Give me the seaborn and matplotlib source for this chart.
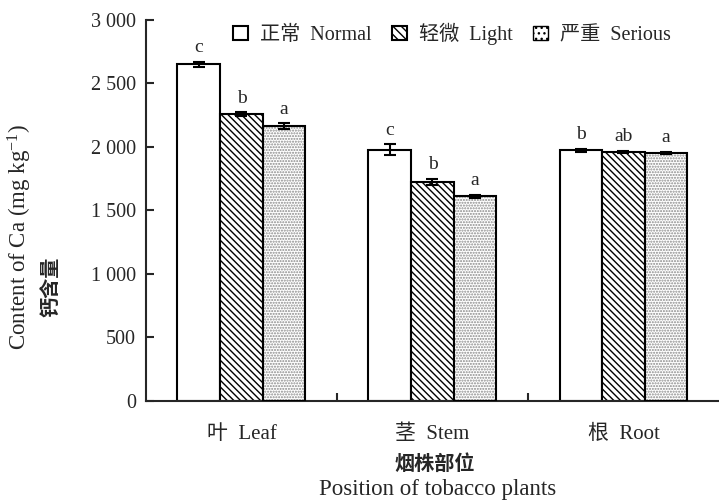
import numpy as np
import pandas as pd
import matplotlib
matplotlib.use("Agg")
import matplotlib.pyplot as plt
import matplotlib.ticker as mticker
from matplotlib.patches import Patch, Rectangle
import seaborn as sns

# dados
partes = ["叶  Leaf", "茎  Stem", "根  Root"]
niveis = ["正常  Normal", "轻微  Light", "严重  Serious"]
normal = [2650, 1980, 1975]
leve = [2258, 1725, 1962]
grave = [2165, 1612, 1952]
err_normal = [22, 40, 12]
err_leve = [14, 25, 8]
err_grave = [22, 12, 10]
letras_normal = ["c", "c", "b"]
letras_leve = ["b", "b", "ab"]
letras_grave = ["a", "a", "a"]

sns.set_theme(style="ticks")
plt.rcParams.update({
    "font.family": ["Liberation Serif", "Noto Sans CJK SC"],
    "mathtext.fontset": "custom",
    "mathtext.rm": "Liberation Serif",
    "mathtext.it": "Liberation Serif:italic",
    "hatch.linewidth": 1.0,
    "axes.linewidth": 1.5,
})

df = pd.DataFrame({
    "parte": partes * 3,
    "nivel": [niveis[0]] * 3 + [niveis[1]] * 3 + [niveis[2]] * 3,
    "valor": normal + leve + grave,
    "erro": err_normal + err_leve + err_grave,
    "letra": letras_normal + letras_leve + letras_grave,
})

fig = plt.figure(figsize=(7.19, 5.01), dpi=100)
ax = fig.add_axes([0.203, 0.1996, 0.797, 0.7605])

sns.barplot(data=df, x="parte", y="valor", hue="nivel", order=partes,
            hue_order=niveis, errorbar=None, width=0.67, ax=ax,
            palette=["white", "white", "white"], edgecolor="black",
            linewidth=1.5, legend=False)

barras = list(ax.containers)
for bar in barras[1]:
    bar.set_hatch("\\\\\\\\\\")
# hachura pontilhada cinza + contorno preto por cima
for bar in barras[2]:
    bar.set_hatch("......")
    bar.set_edgecolor("#8a8a8a")
    bar.set_linewidth(0)
    ax.add_patch(Rectangle(bar.get_xy(), bar.get_width(), bar.get_height(),
                           fill=False, edgecolor="black", linewidth=1.5, zorder=3))

for i, cont in enumerate(barras):
    sub = df[df["nivel"] == niveis[i]].set_index("parte").loc[partes]
    for bar, (_, row) in zip(cont, sub.iterrows()):
        xc = bar.get_x() + bar.get_width() / 2
        ax.errorbar(xc, row["valor"], yerr=row["erro"], color="black",
                    capsize=4, elinewidth=1.5, capthick=1.5, zorder=4)
        ax.text(xc, row["valor"] + row["erro"] + 45, row["letra"],
                ha="center", va="bottom", fontsize=14)

ax.set_ylim(0, 3000)
ax.set_xlim(-0.5, 2.5)
ax.set_yticks(range(0, 3001, 500))
ax.yaxis.set_major_formatter(mticker.FuncFormatter(
    lambda v, _: f"{int(v):,}".replace(",", " ")))
ax.set_xticks([0, 1, 2])
ax.set_xticklabels(partes)
ax.xaxis.set_minor_locator(mticker.FixedLocator([0.5, 1.5]))
ax.tick_params(axis="x", which="major", length=0, pad=17, labelsize=15)
ax.tick_params(axis="x", which="minor", direction="in", length=6, width=1.5)
ax.tick_params(axis="y", direction="in", length=6, width=1.5, labelsize=14.5, pad=7)
sns.despine(ax=ax)
ax.set_xlabel("")
ax.set_ylabel("")

handles = [Patch(facecolor="white", edgecolor="black", linewidth=1.5),
           Patch(facecolor="white", edgecolor="black", linewidth=1.5, hatch="\\\\\\\\"),
           Patch(facecolor="white", edgecolor="black", linewidth=1.0, hatch="...")]
ax.legend(handles, niveis, loc="upper left", bbox_to_anchor=(0.12, 1.04),
          ncol=3, frameon=False, fontsize=14.5, handlelength=0.75, handleheight=0.75,
          handletextpad=0.6, columnspacing=1.0)

fig.text(0.028, 0.527, "Content of Ca (mg kg$^{-1}$)", rotation=90,
         ha="center", va="center", fontsize=16.5)
fig.text(0.072, 0.427, "钙含量", rotation=90, ha="center", va="center",
         fontsize=14.5, fontweight="bold")
fig.text(0.605, 0.072, "烟株部位", ha="center", va="center", fontsize=14.5,
         fontweight="bold")
fig.text(0.609, 0.022, "Position of tobacco plants", ha="center", va="center",
         fontsize=16.5)

fig.savefig("out.png", dpi=100)
